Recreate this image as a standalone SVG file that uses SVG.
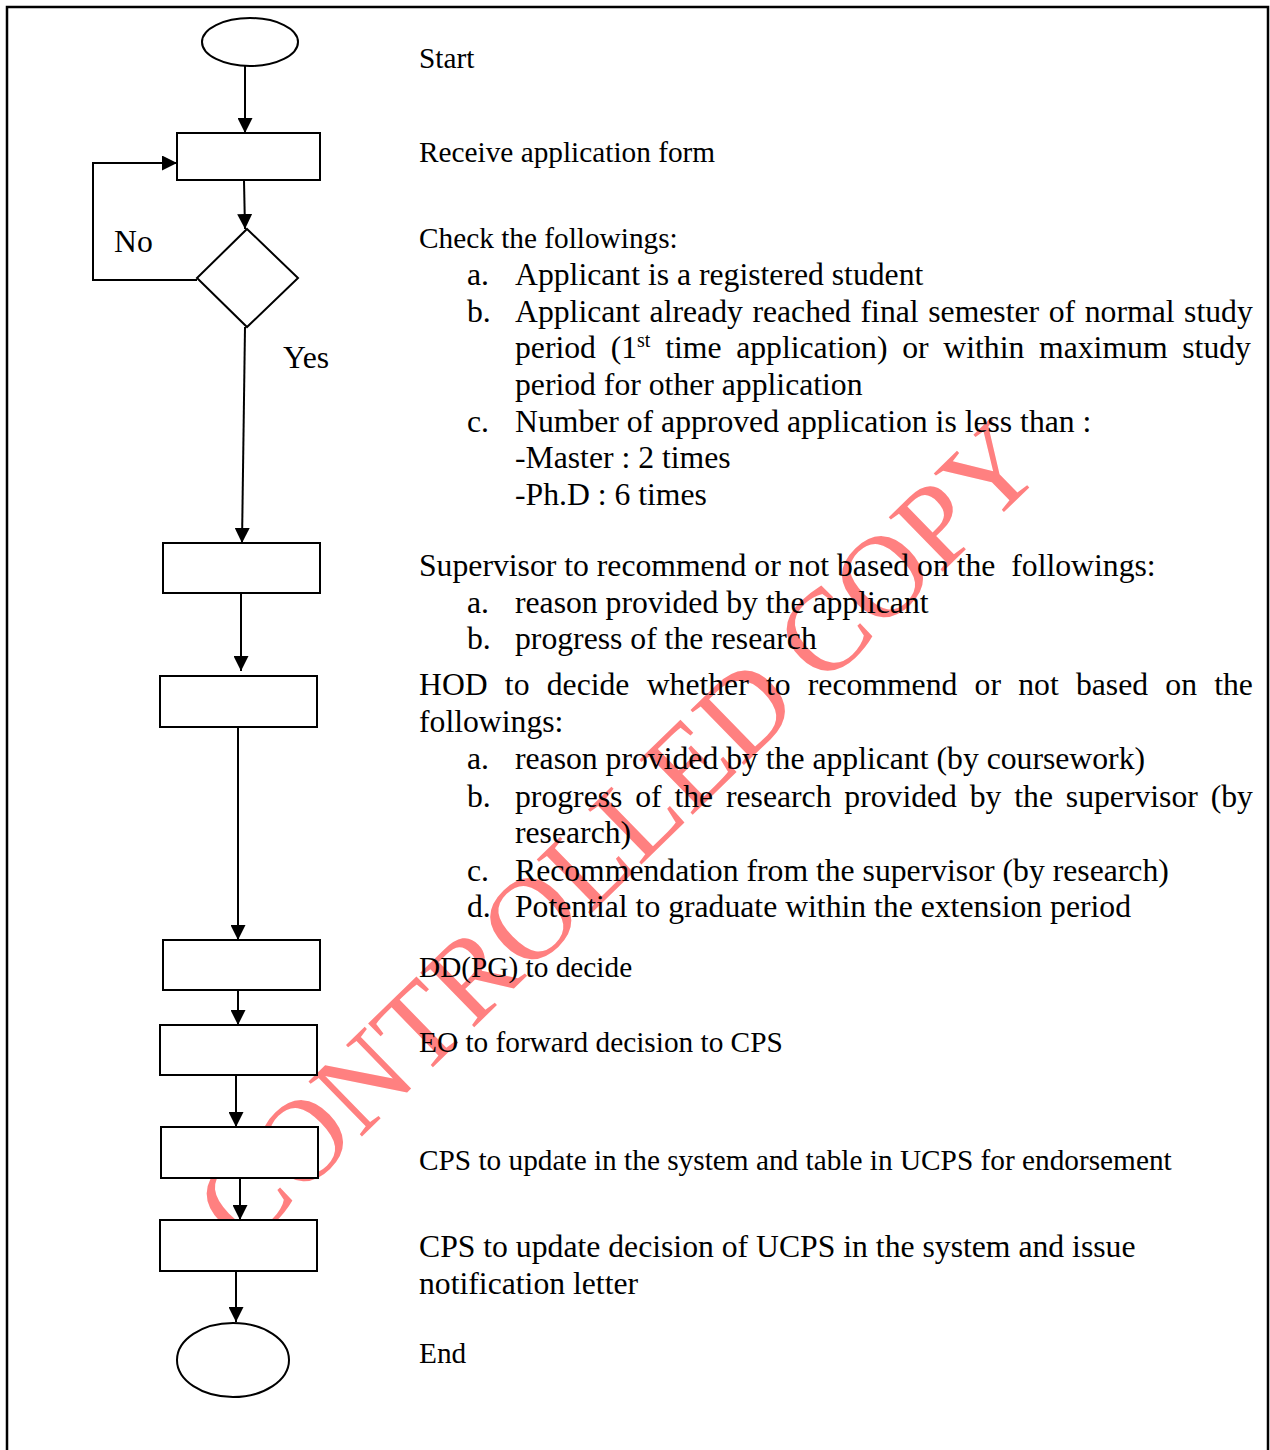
<svg xmlns="http://www.w3.org/2000/svg" width="1270" height="1450" viewBox="0 0 1270 1450">
<defs>
<style>
.t{font-family:"Liberation Serif","Times New Roman",serif;fill:#000}
.s{font-size:29.3px}
.l{font-size:31.7px}
.box{fill:#fff;stroke:#000;stroke-width:2}
.ln{fill:none;stroke:#000;stroke-width:2}
.wm{font-family:"Liberation Serif","Times New Roman",serif;font-size:117px;fill:#ff8080}
</style>
<marker id="ah" markerUnits="userSpaceOnUse" markerWidth="15" markerHeight="15" refX="15" refY="7.5" orient="auto">
<path d="M0,0 L15,7.5 L0,15 Z" fill="#000"/>
</marker>
</defs>
<rect x="0" y="0" width="1270" height="1450" fill="#fff"/>
<rect x="7" y="7" width="1261" height="1470" fill="none" stroke="#000" stroke-width="2.5"/>

<text class="wm" x="243" y="1252" transform="rotate(-44.2 243 1252)">CONTROLLED COPY</text>

<g id="connectors">
<line class="ln" x1="245" y1="66" x2="245" y2="133" marker-end="url(#ah)"/>
<line class="ln" x1="244" y1="181" x2="245" y2="229" marker-end="url(#ah)"/>
<polyline class="ln" points="197,280 93,280 93,163 177,163" marker-end="url(#ah)"/>
<line class="ln" x1="245" y1="327" x2="242" y2="543" marker-end="url(#ah)"/>
<line class="ln" x1="241" y1="593" x2="241" y2="671" marker-end="url(#ah)"/>
<line class="ln" x1="238" y1="727" x2="238" y2="940" marker-end="url(#ah)"/>
<line class="ln" x1="238" y1="990" x2="238" y2="1025" marker-end="url(#ah)"/>
<line class="ln" x1="236" y1="1076" x2="236" y2="1127" marker-end="url(#ah)"/>
<line class="ln" x1="240" y1="1178" x2="240" y2="1220" marker-end="url(#ah)"/>
<line class="ln" x1="236" y1="1271" x2="236" y2="1322" marker-end="url(#ah)"/>
</g>

<g id="start"><ellipse class="box" cx="250" cy="42" rx="48" ry="24"/></g>
<g id="receive"><rect class="box" x="177" y="133" width="143" height="47"/></g>
<g id="check"><polygon class="box" points="247,229 298,278 247,327 197,278"/></g>
<g id="supervisor"><rect class="box" x="163" y="543" width="157" height="50"/></g>
<g id="hod"><rect class="box" x="160" y="676" width="157" height="51"/></g>
<g id="ddpg"><rect class="box" x="163" y="940" width="157" height="50"/></g>
<g id="eo"><rect class="box" x="160" y="1025" width="157" height="50"/></g>
<g id="cps1"><rect class="box" x="161" y="1127" width="157" height="51"/></g>
<g id="cps2"><rect class="box" x="160" y="1220" width="157" height="51"/></g>
<g id="end"><ellipse class="box" cx="233" cy="1360" rx="56" ry="37"/></g>

<g id="labels">
<text class="t l" x="114" y="252">No</text>
<text class="t l" x="283" y="368">Yes</text>

<text class="t s" x="419" y="68">Start</text>
<text class="t s" x="419" y="162">Receive application form</text>

<text class="t s" x="419" y="248">Check the followings:</text>
<text class="t l" x="467" y="285">a.</text>
<text class="t l" x="515" y="285">Applicant is a registered student</text>
<text class="t l" x="467" y="322">b.</text>
<text class="t l" x="515" y="322" word-spacing="1.7">Applicant already reached final semester of normal study</text>
<text class="t l" x="515" y="358" word-spacing="6.8">period (1<tspan font-size="20" dy="-11">st</tspan><tspan dy="11"> time application) or within maximum study</tspan></text>
<text class="t l" x="515" y="395">period for other application</text>
<text class="t l" x="467" y="432">c.</text>
<text class="t l" x="515" y="432">Number of approved application is less than :</text>
<text class="t l" x="515" y="468">-Master : 2 times</text>
<text class="t l" x="515" y="505">-Ph.D : 6 times</text>

<text class="t l" x="419" y="576" xml:space="preserve">Supervisor to recommend or not based on the  followings:</text>
<text class="t l" x="467" y="613">a.</text>
<text class="t l" x="515" y="613">reason provided by the applicant</text>
<text class="t l" x="467" y="649">b.</text>
<text class="t l" x="515" y="649">progress of the research</text>

<text class="t l" x="419" y="695" word-spacing="9.3">HOD to decide whether to recommend or not based on the</text>
<text class="t l" x="419" y="732">followings:</text>
<text class="t l" x="467" y="769">a.</text>
<text class="t l" x="515" y="769">reason provided by the applicant (by coursework)</text>
<text class="t l" x="467" y="807">b.</text>
<text class="t l" x="515" y="807" word-spacing="4.9">progress of the research provided by the supervisor (by</text>
<text class="t l" x="515" y="843">research)</text>
<text class="t l" x="467" y="881">c.</text>
<text class="t l" x="515" y="881">Recommendation from the supervisor (by research)</text>
<text class="t l" x="467" y="917">d.</text>
<text class="t l" x="515" y="917">Potential to graduate within the extension period</text>

<text class="t s" x="419" y="977">DD(PG) to decide</text>
<text class="t s" x="419" y="1052">EO to forward decision to CPS</text>
<text class="t s" x="419" y="1170">CPS to update in the system and table in UCPS for endorsement</text>
<text class="t l" x="419" y="1257">CPS to update decision of UCPS in the system and issue</text>
<text class="t l" x="419" y="1294">notification letter</text>
<text class="t s" x="419" y="1363">End</text>
</g>
</svg>
